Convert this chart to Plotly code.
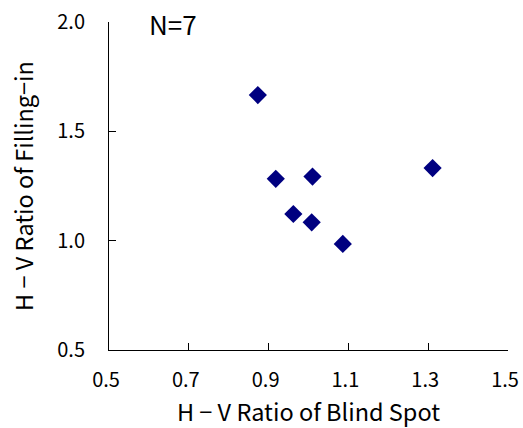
import plotly.graph_objects as go

blind_spot = [0.873, 0.918, 1.010, 1.311, 0.962, 1.008, 1.086]
filling_in = [1.666, 1.283, 1.293, 1.332, 1.122, 1.084, 0.985]
x_ticks = [0.5, 0.7, 0.9, 1.1, 1.3, 1.5]
y_ticks = [0.5, 1.0, 1.5, 2.0]

FONT = "Noto Sans CJK JP"

fig = go.Figure(go.Scatter(
    x=blind_spot, y=filling_in, mode="markers",
    marker=dict(symbol="diamond", size=14, color="#000080"),
))

fig.update_layout(
    width=523, height=428,
    margin=dict(l=109, r=15, t=22, b=78),
    paper_bgcolor="white", plot_bgcolor="white",
    showlegend=False,
    font=dict(family=FONT, color="black", size=20),
    annotations=[dict(
        x=0.594, y=0.994, xref="x", yref="paper", text="N=7", showarrow=False,
        xanchor="left", yanchor="middle", font=dict(family=FONT, size=26, color="black"),
    )],
)
fig.update_xaxes(
    range=[0.5, 1.5], tickvals=x_ticks, ticktext=[f"{v:.1f}" for v in x_ticks],
    showline=True, linecolor="black", linewidth=1, showgrid=False, zeroline=False,
    ticks="inside", ticklen=7, tickcolor="black",
    ticklabelstandoff=12, ticklabelshift=-3, automargin=False, ticklabeloverflow="allow",
    tickfont=dict(family=FONT, size=20),
    title=dict(text="H − V Ratio of Blind Spot", font=dict(family=FONT, size=23.5)),
)
fig.update_yaxes(
    range=[0.5, 2.0], tickvals=y_ticks, ticktext=[f"{v:.1f}" for v in y_ticks],
    showline=True, linecolor="black", linewidth=1, showgrid=False, zeroline=False,
    ticks="inside", ticklen=7, tickcolor="black",
    ticklabelstandoff=19, automargin="left", ticklabeloverflow="allow",
    tickfont=dict(family=FONT, size=20),
    title=dict(text="H − V Ratio of Filling−in", font=dict(family=FONT, size=23.5), standoff=17),
)

fig.write_html(
    "out.html",
    config={"displayModeBar": False},
    post_script="document.body.style.margin='0';document.body.style.overflow='hidden';",
)
